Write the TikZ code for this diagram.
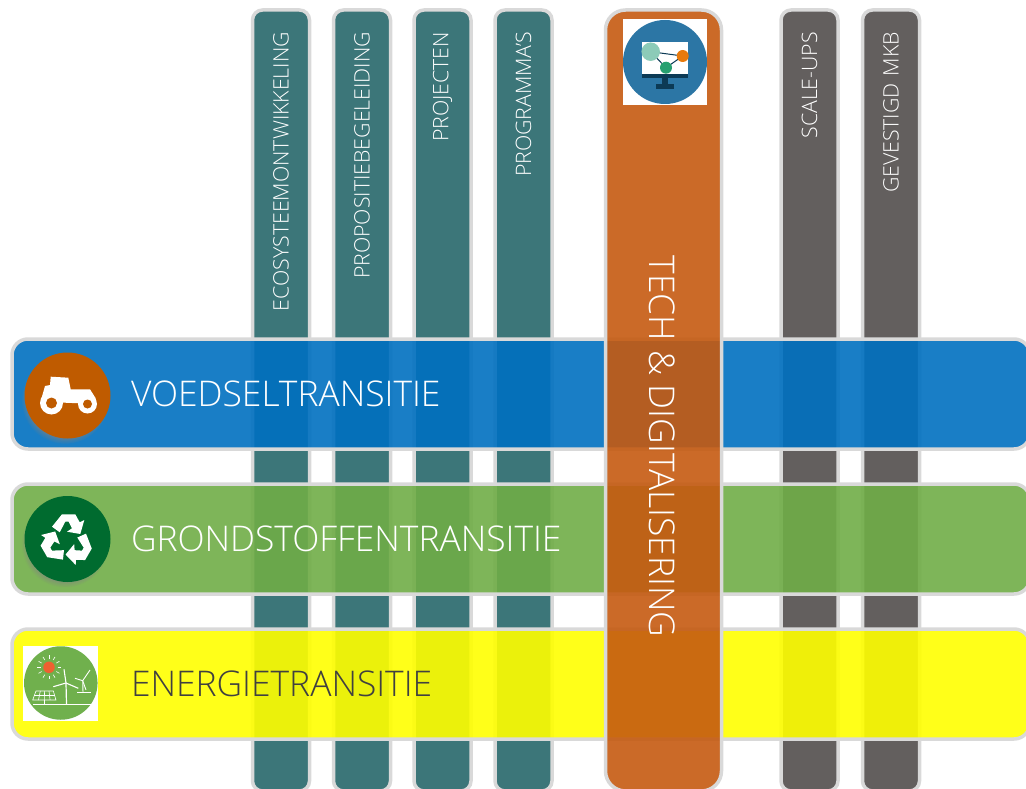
\documentclass[tikz,border=0pt]{standalone}
\usepackage{fontspec}
\setmainfont{Open Sans Light}
\usetikzlibrary{shadows}

\definecolor{columnteal}{HTML}{3C7679}
\definecolor{columngray}{HTML}{635F5E}
\definecolor{barborder}{HTML}{D9D9D9}
\definecolor{foodblue}{HTML}{0070C0}
\definecolor{wastegreen}{HTML}{70AD47}
\definecolor{energyyellow}{HTML}{FFFF00}
\definecolor{techorange}{HTML}{C55A11}
\definecolor{tractororange}{HTML}{BF5B00}
\definecolor{recyclegreen}{HTML}{006B2F}
\definecolor{darktext}{HTML}{404040}
\definecolor{energygreen}{HTML}{70B04D}
\definecolor{sunred}{HTML}{EE6030}
\definecolor{iconblue}{HTML}{2C76A5}
\definecolor{icondark}{HTML}{0C3A55}
\definecolor{dotpale}{HTML}{8CCBB8}
\definecolor{dotorange}{HTML}{E87A0C}
\definecolor{dotgreen}{HTML}{27A070}

\tikzstyle{column} = [rectangle,rounded corners=10pt,rotate=90,minimum width=781pt,minimum height=57pt,text width=737pt,inner xsep=22pt,align=right,draw=barborder,line width=3.5pt,text=white,font=\fontsize{21.3}{24}\selectfont]
\tikzstyle{transition} = [rectangle,rounded corners=16pt,minimum width=1018pt,minimum height=110pt,text width=780pt,inner xsep=119pt,align=left,draw=barborder,line width=3.5pt,fill opacity=0.9,text opacity=1,text=white,font=\fontsize{35.4}{40}\selectfont]
\tikzstyle{techbar} = [rectangle,rounded corners=20pt,minimum width=116pt,minimum height=781pt,draw=barborder,line width=3.5pt,fill=techorange,fill opacity=0.9]
\tikzstyle{badge} = [circle,minimum size=86pt,inner sep=0pt,circular drop shadow={shadow xshift=-2.5pt,shadow yshift=-4.5pt,shadow scale=1.02,opacity=0.6}]
\tikzstyle{whitesquare} = [rectangle,fill=white,inner sep=0pt]
\tikzstyle{thinwhite} = [draw=white,line width=0.6pt]
\tikzstyle{link} = [draw=icondark,line width=1pt]

\begin{document}
\begin{tikzpicture}[x=1pt,y=-1pt,node distance=145pt]
	\useasboundingbox (0,0) rectangle (1026,789);
	\clip (0,0) rectangle (1026,789);

	\node (column1) [column, fill=columnteal] at (281,400.5) {ECOSYSTEEMONTWIKKELING};
	\node (column2) [column, fill=columnteal] at (362,400.5) {PROPOSITIEBEGELEIDING};
	\node (column3) [column, fill=columnteal] at (442.5,400.5) {PROJECTEN};
	\node (column4) [column, fill=columnteal] at (523.5,400.5) {PROGRAMMA’S};
	\node (column5) [column, fill=columngray] at (809.5,400.5) {SCALE-UPS};
	\node (column6) [column, fill=columngray] at (891,400.5) {GEVESTIGD MKB};

	\node (transition1) [transition, fill=foodblue] at (521,394) {VOEDSELTRANSITIE};
	\node (transition2) [transition, fill=wastegreen, below of=transition1] {GRONDSTOFFENTRANSITIE};
	\node (transition3) [transition, fill=energyyellow, text=darktext, below of=transition2] {ENERGIETRANSITIE};

	\node (tech) [techbar] at (663.5,400.5) {};
	\node (techlabel) [rotate=-90, text=white, font=\fontsize{35.4}{40}\selectfont] at (662,446.5) {TECH \& DIGITALISERING};

	% tractor
	\node (tractorbadge) [badge, fill=tractororange] at (67.5,395.5) {};
	\fill [white] (45,386) -- (50,385) -- (50.7,376.7) -- (68.3,377.7) -- (70.7,389.3) -- (90,389.3) -- (95.7,398.3) -- (96,404) -- (60,402.5) -- (50,398) -- (41,400) -- cycle;
	\node (rearwheel) [circle, fill=white, minimum size=23pt, inner sep=0pt] at (51.5,403) {};
	\node (rearhub) [circle, fill=tractororange, minimum size=11pt, inner sep=0pt] at (51.5,403) {};
	\node (frontwheel) [circle, fill=white, minimum size=19pt, inner sep=0pt] at (87.5,404) {};
	\node (fronthub) [circle, fill=tractororange, minimum size=9pt, inner sep=0pt] at (87.5,404) {};

	% recycling arrows
	\node (recyclebadge) [badge, fill=recyclegreen] at (67.5,539) {};
	\foreach \turn in {0,120,240} {
		\fill [white, shift={(67,540)}, rotate=\turn] (-15,-13.3) -- (-5,-25.7) -- (8.3,-25.7) -- (12.7,-17.7) -- (17.3,-20) -- (13.3,-6) -- (0,-8.3) -- (5,-11.7) -- (1.7,-18.3) -- (-1.7,-18.3) -- (-7.3,-7.7) -- cycle;
	}

	% energy icon
	\node (energysquare) [whitesquare, minimum width=75pt, minimum height=75pt] at (60.8,683.5) {};
	\node (energycircle) [circle, fill=energygreen, minimum size=73.5pt, inner sep=0pt] at (60.8,683) {};
	\node (sun) [circle, fill=sunred, minimum size=11.5pt, inner sep=0pt] at (49,667.3) {};
	\foreach \turn in {0,30,...,330} {
		\draw [thinwhite, shift={(49,667.3)}, rotate=\turn] (8.5,0) -- (12,0);
	}
	\draw [thinwhite] (36,691) -- (53.3,691) -- (56,700) -- (32.7,700) -- cycle;
	\draw [thinwhite] (34.2,695.5) -- (54.7,695.5);
	\foreach \top/\bottom in {40.3/38.5,44.6/44.3,49/50.1} {
		\draw [thinwhite] (\top,691) -- (\bottom,700);
	}
	\coordinate (ground1) at (33,704);
	\coordinate (ground2) at (92,704);
	\draw [thinwhite] (ground1) -- (ground2);
	\draw [thinwhite] (44.4,700) -- (44.4,704);
	\coordinate (bighub) at (66,683);
	\coordinate (smallhub) at (82.7,680.7);
	\draw [white, line width=1.2pt] (bighub) -- (66.5,704);
	\draw [white, line width=1.1pt] (bighub) -- (64,669.3);
	\draw [white, line width=1.1pt] (bighub) -- (53.3,686.7);
	\draw [white, line width=1.1pt] (bighub) -- (78.3,688.3);
	\draw [white, line width=0.9pt] (smallhub) -- (83,692.7);
	\draw [white, line width=0.9pt] (smallhub) -- (90,670);
	\draw [white, line width=0.9pt] (smallhub) -- (75,678.3);
	\draw [white, line width=0.9pt] (smallhub) -- (86,690);
	\draw [thinwhite] (77.3,692.7) -- (90.7,692.7);

	% monitor icon
	\node (monitorsquare) [whitesquare, minimum width=84pt, minimum height=86pt] at (665,62) {};
	\node (monitorcircle) [circle, fill=iconblue, minimum size=84pt, inner sep=0pt] at (665,62) {};
	\node (screen) [whitesquare, minimum width=46.5pt, minimum height=32pt] at (665,58) {};
	\node (screenbar) [rectangle, fill=icondark, minimum width=46.5pt, minimum height=4.5pt, inner sep=0pt] at (665,76) {};
	\node (stem) [rectangle, fill=icondark, minimum width=6pt, minimum height=6pt, inner sep=0pt] at (665,81) {};
	\node (foot) [rectangle, fill=icondark, minimum width=18pt, minimum height=5pt, inner sep=0pt] at (665,86.5) {};
	\coordinate (dotA) at (650.7,51.7);
	\coordinate (dotB) at (682.7,56);
	\coordinate (dotC) at (666,67.7);
	\draw [link] (dotA) -- (dotB);
	\draw [link] (dotA) -- (dotC);
	\draw [link] (dotB) -- (dotC);
	\node (bigdot) [circle, fill=dotpale, minimum size=18.5pt, inner sep=0pt] at (dotA) {};
	\node (orangedot) [circle, fill=dotorange, minimum size=12pt, inner sep=0pt] at (dotB) {};
	\node (greendot) [circle, fill=dotgreen, minimum size=12pt, inner sep=0pt] at (dotC) {};
\end{tikzpicture}
\end{document}
